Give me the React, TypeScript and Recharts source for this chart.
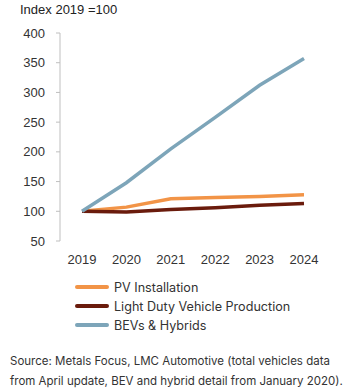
import React from "react";
import { LineChart, Line, XAxis, YAxis } from "recharts";

const years = ["2019", "2020", "2021", "2022", "2023", "2024"];
const pvInstallation = [100, 107, 121, 123, 125, 128];
const lightDutyVehicle = [100, 99, 103, 106, 110, 113];
const bevsHybrids = [100, 148, 205, 258, 312, 357];
const yTicks = [50, 100, 150, 200, 250, 300, 350, 400];

const series = [
  { key: "pv", name: "PV Installation", color: "#F29447", values: pvInstallation },
  { key: "ldv", name: "Light Duty Vehicle Production", color: "#6A1B0C", values: lightDutyVehicle },
  { key: "bev", name: "BEVs & Hybrids", color: "#7DA5B9", values: bevsHybrids },
];

const data = years.map((y, i) => {
  const row: any = { year: y };
  series.forEach((s) => (row[s.key] = s.values[i]));
  return row;
});

const font = "'Liberation Sans', Arial, sans-serif";
const font2 = "Inter, 'Liberation Sans', sans-serif";

export default function App() {
  return (
    <div style={{ position: "absolute", left: 0, top: 0, width: 351, height: 388, background: "#fff", fontFamily: font, color: "#222" }}>
      <div style={{ position: "absolute", left: 20, top: 2, fontSize: 13, lineHeight: "16px" }}>Index 2019 =100</div>
      <div style={{ position: "absolute", left: 0, top: 0 }}>
        <LineChart width={351} height={272} data={data} margin={{ top: 33, right: 25, bottom: 0, left: 0 }}>
          <YAxis
            type="number"
            domain={[50, 400]}
            ticks={yTicks}
            width={60}
            axisLine={{ stroke: "#bfbfbf" }}
            tickLine={{ stroke: "#bfbfbf" }}
            tickSize={4}
            tickMargin={11}
            tick={{ fill: "#333", fontSize: 13, fontFamily: font }}
            interval={0}
          />
          <XAxis
            dataKey="year"
            axisLine={false}
            tickLine={false}
            padding={{ left: 22, right: 22 }}
            tick={{ fill: "#333", fontSize: 13, fontFamily: font }}
            tickMargin={8}
            height={31}
            interval={0}
          />
          {series.map((s) => (
            <Line
              key={s.key}
              dataKey={s.key}
              name={s.name}
              stroke={s.color}
              strokeWidth={3.5}
              dot={false}
              isAnimationActive={false}
              type="linear"
            />
          ))}
        </LineChart>
      </div>
      {series.map((s, i) => (
        <div key={s.key} style={{ position: "absolute", left: 75, top: 279 + i * 19, height: 16, display: "flex", alignItems: "center", fontSize: 12.6, fontFamily: font2, color: "#333" }}>
          <div style={{ width: 34, height: 4, background: s.color, borderRadius: 2, marginRight: 5 }} />
          <span>{s.name}</span>
        </div>
      ))}
      <div style={{ position: "absolute", left: 10, top: 352, fontSize: 11.5, lineHeight: "19.5px", color: "#333", fontFamily: font2, whiteSpace: "nowrap" }}>
        Source: Metals Focus, LMC Automotive (total vehicles data<br />
        from April update, BEV and hybrid detail from January 2020).
      </div>
    </div>
  );
}
